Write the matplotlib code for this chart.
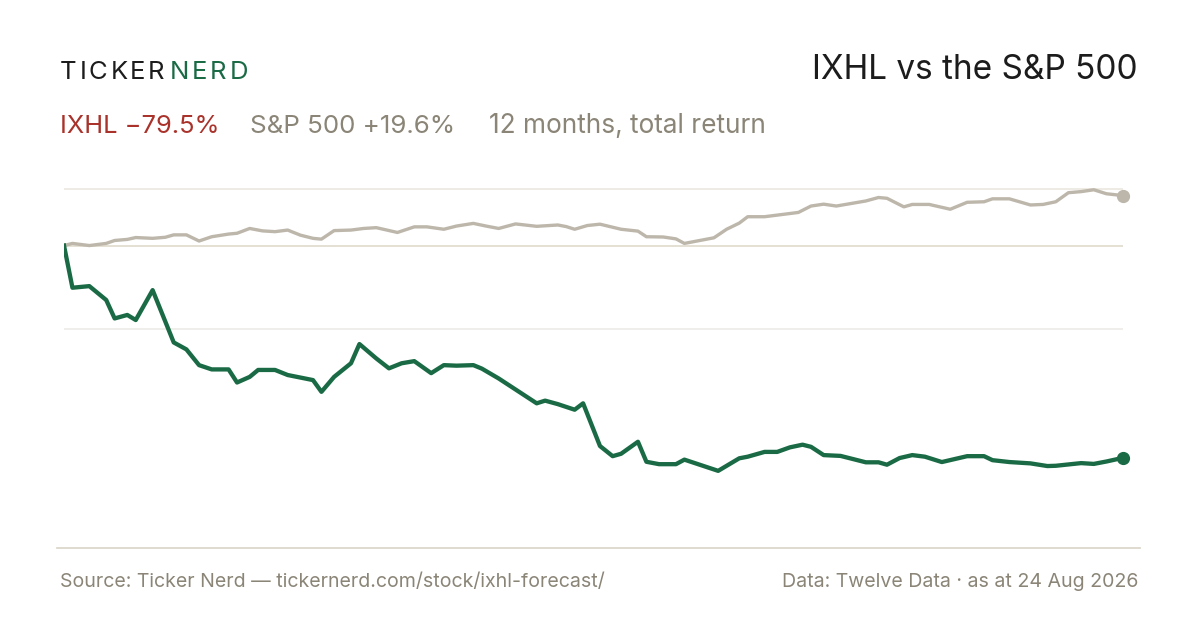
import matplotlib.pyplot as plt
from matplotlib.lines import Line2D

plt.rcParams['font.family'] = ['Inter', 'DejaVu Sans']

# trading day since start, cumulative return in %
ixhl_day = [0, 2, 6, 10, 12, 15, 17, 21, 26, 29, 32, 35, 39, 41, 44, 46, 50, 53, 59, 61,
            64, 68, 70, 74, 77, 80, 83, 87, 90, 93, 97, 99, 103, 106, 109, 112, 114, 117,
            121, 123, 127, 130, 132, 136, 138, 141, 145, 147, 155, 160, 162, 166, 169, 172,
            175, 177, 180, 184, 187, 190, 193, 195, 198, 201, 204, 208, 214, 218, 220, 224,
            229, 233, 235, 241, 244, 247, 251]
ixhl_ret = [0, -15.8, -15.2, -20.4, -27.3, -26.0, -27.9, -16.7, -36.3, -38.9, -44.8, -46.4,
            -46.4, -51.3, -49.2, -46.6, -46.6, -48.5, -50.4, -54.8, -49.2, -44.1, -36.9, -42.3,
            -46.0, -44.1, -43.3, -47.8, -44.8, -45.0, -44.8, -46.1, -49.8, -52.9, -56.0, -59.1,
            -58.1, -59.4, -61.5, -59.1, -75.1, -78.9, -78.0, -73.5, -81.0, -81.9, -81.9, -80.2,
            -84.4, -79.7, -79.1, -77.3, -77.3, -75.6, -74.6, -75.4, -78.5, -78.8, -80.0, -81.2,
            -81.2, -82.1, -79.6, -78.5, -79.1, -81.1, -78.9, -78.9, -80.4, -81.1, -81.6, -82.6,
            -82.5, -81.5, -81.8, -80.9, -79.5]

spx_day = [0, 2, 6, 10, 12, 15, 17, 21, 24, 26, 29, 32, 35, 39, 41, 44, 47, 50, 53, 56, 59,
           61, 64, 68, 71, 74, 79, 83, 86, 90, 93, 97, 100, 103, 107, 112, 117, 119, 121, 124,
           127, 132, 136, 138, 142, 145, 147, 150, 154, 157, 160, 162, 166, 170, 174, 177,
           180, 183, 190, 193, 195, 199, 201, 205, 210, 214, 218, 220, 224, 229, 232, 235,
           238, 241, 244, 247, 251]
spx_ret = [0, 0.8, 0, 0.8, 1.9, 2.3, 3.0, 2.7, 3.1, 4.0, 4.0, 1.7, 3.3, 4.3, 4.6, 6.4, 5.5,
           5.2, 5.8, 3.9, 2.7, 2.4, 5.6, 5.8, 6.4, 6.7, 4.9, 7.0, 7.0, 6.1, 7.3, 8.3, 7.3, 6.4,
           8.1, 7.2, 7.7, 7.1, 6.1, 7.5, 8.0, 6.1, 5.4, 3.3, 3.2, 2.5, 0.8, 1.7, 2.9, 6.1, 8.4,
           10.8, 10.8, 11.6, 12.4, 14.8, 15.5, 14.8, 16.7, 18.0, 17.7, 14.5, 15.4, 15.4, 13.6,
           16.2, 16.4, 17.5, 17.5, 15.2, 15.4, 16.4, 19.8, 20.2, 20.9, 19.4, 18.7]

grid_levels = [21.2, -31.3]

GREEN = '#1a6b45'
SAND = '#bdb6aa'
MUTED = '#8a8577'
RED = '#a9322b'
INK = '#1c1c1c'

fig = plt.figure(figsize=(12, 6.3), dpi=100)
ax = fig.add_axes([64 / 1200, 82 / 630, 1059.3 / 1200, 378 / 630])
ax.set_xlim(0, 251)
ax.set_ylim(-113.3, 28.3)
ax.axis('off')

ax.axhline(grid_levels[0], color='#e9e6dc', lw=1.1, zorder=1)
ax.axhline(grid_levels[1], color='#ece9e4', lw=1.1, zorder=1)
ax.axhline(0, color='#ddd8c8', lw=1.1, zorder=1)

ax.plot(spx_day, spx_ret, color=SAND, lw=2.4, solid_joinstyle='round', zorder=3)
ax.plot(ixhl_day, ixhl_ret, color=GREEN, lw=3.1, solid_joinstyle='round', zorder=4)
ax.plot(spx_day[-1], spx_ret[-1], 'o', color=SAND, ms=8.5, clip_on=False, zorder=5)
ax.plot(ixhl_day[-1], ixhl_ret[-1], 'o', color=GREEN, ms=8.5, clip_on=False, zorder=5)

# bottom rule
fig.add_artist(Line2D([57 / 1200, 1140 / 1200], [82 / 630, 82 / 630],
                      color='#dcd8cc', lw=1.3))


def spaced(x_px, y_px, word, color, size, track):
    # letter-spaced wordmark, one glyph at a time
    renderer = fig.canvas.get_renderer()
    for ch in word:
        t = fig.text(x_px / 1200, 1 - y_px / 630, ch, color=color, fontsize=size,
                     ha='left', va='baseline')
        x_px += t.get_window_extent(renderer).width + track


# header
spaced(60, 79, 'TICKER', INK, 18.5, 2.7)
spaced(170, 79, 'NERD', GREEN, 18.5, 2.7)
fig.text(1138 / 1200, 1 - 79 / 630, 'IXHL vs the S&P 500', color=INK, fontsize=24,
         ha='right', va='baseline')

fig.text(60 / 1200, 1 - 133 / 630, 'IXHL \u221279.5%', color=RED, fontsize=18.3,
         ha='left', va='baseline')
fig.text(250 / 1200, 1 - 133 / 630, 'S&P 500 +19.6%', color=MUTED, fontsize=18.7,
         ha='left', va='baseline')
fig.text(489 / 1200, 1 - 133 / 630, '12 months, total return', color=MUTED, fontsize=18.9,
         ha='left', va='baseline')

# footer
fig.text(60 / 1200, 1 - 587 / 630, 'Source: Ticker Nerd \u2014 tickernerd.com/stock/ixhl-forecast/',
         color=MUTED, fontsize=14.1, ha='left', va='baseline')
fig.text(1138 / 1200, 1 - 587 / 630, 'Data: Twelve Data \u00b7 as at 24 Aug 2026',
         color=MUTED, fontsize=14.1, ha='right', va='baseline')

fig.savefig('out.png', dpi=100, facecolor='white')
